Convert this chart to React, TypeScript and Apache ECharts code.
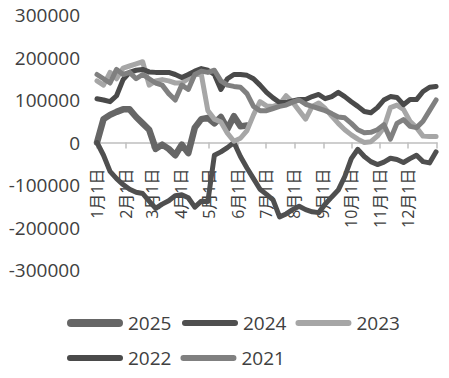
import React, { useEffect, useRef } from "react";
import * as echarts from "echarts";

// Month-start days (day of year) for ticks and labels
const monthTickDays = [0, 31, 59, 90, 120, 151, 181, 212, 243, 273, 304, 334, 365];
const monthLabels = ["1月1日", "2月1日", "3月1日", "4月1日", "5月1日", "6月1日", "7月1日", "8月1日", "9月1日", "10月1日", "11月1日", "12月1日"];

const seriesNames = ["2025", "2024", "2023", "2022", "2021"];

// weekly values (week 0 = 1月1日)
const v2025 = [0, 55, 65, 72, 78, 78, 60, 45, 30, -15, -5, -15, -30, -5, -25, 35, 55, 58, 45, 60, 32, 62, 38, 40].map((v) => v * 1000);
const v2024 = [0, -30, -68, -85, -99, -110, -117, -120, -138, -155, -145, -137, -125, -123, -130, -152, -138, -139, -30, -22, -12, 0, -33, -60, -85, -110, -122, -135, -175, -168, -158, -150, -158, -163, -165, -145, -128, -112, -80, -38, -16, -33, -45, -52, -46, -37, -40, -47, -38, -30, -45, -48, -22].map((v) => v * 1000);
const v2023 = [145, 135, 165, 150, 175, 180, 185, 190, 135, 145, 148, 145, 140, 140, 150, 160, 160, 75, 55, 48, 22, 3, 10, 28, 65, 96, 86, 85, 90, 110, 95, 75, 55, 85, 93, 80, 62, 45, 30, 18, 8, 0, 2, 15, 35, 82, 88, 78, 50, 35, 15, 14, 14].map((v) => v * 1000);
const v2022 = [103, 100, 96, 110, 148, 165, 170, 172, 166, 165, 165, 165, 160, 153, 160, 168, 174, 170, 160, 125, 150, 160, 160, 158, 150, 135, 118, 105, 94, 94, 98, 101, 101, 108, 113, 103, 108, 118, 108, 96, 85, 73, 70, 82, 100, 108, 106, 89, 101, 101, 120, 130, 132].map((v) => v * 1000);
const v2021 = [160, 150, 140, 172, 160, 165, 150, 160, 150, 140, 135, 115, 100, 135, 125, 160, 168, 165, 170, 145, 135, 132, 130, 115, 85, 75, 75, 80, 85, 88, 95, 100, 90, 85, 80, 75, 68, 60, 58, 45, 30, 23, 24, 30, 42, 8, 45, 54, 38, 35, 50, 75, 100].map((v) => v * 1000);

const seriesValues = [v2025, v2024, v2023, v2022, v2021];
const seriesColors = ["#666666", "#4f4f4f", "#a6a6a6", "#4a4a4a", "#808080"];
const seriesWidths = [6.5, 5, 5, 5, 5];

const DAYS_PER_WEEK = 7;

const capsuleThick = "path://M4,0H52A4,4,0,0,1,52,8H4A4,4,0,0,1,4,0Z";
const capsuleThin = "path://M3,0H53A3,3,0,0,1,53,6H3A3,3,0,0,1,3,0Z";

export default function App() {
  const ref = useRef<HTMLDivElement>(null);
  useEffect(() => {
    if (!ref.current) return;
    const chart = echarts.init(ref.current, undefined, { renderer: "svg" });
    const font = "'Open Sans', 'Noto Sans CJK SC', sans-serif";
    const legendText = { fontSize: 19, color: "#404040", fontFamily: font, lineHeight: 24 };
    const legendBase = {
      orient: "horizontal",
      itemWidth: 56,
      itemGap: 9,
      textStyle: legendText,
      symbolKeepAspect: true,
    };
    chart.setOption({
      animation: false,
      grid: { left: 97, right: 12, top: 15, bottom: 108, containLabel: false },
      legend: [
        { ...legendBase, left: 62, top: 306, itemHeight: 8, data: [{ name: seriesNames[0], icon: capsuleThick }] },
        { ...legendBase, left: 177, top: 306, itemHeight: 6, data: [seriesNames[1], seriesNames[2]].map((n) => ({ name: n, icon: capsuleThin })) },
        { ...legendBase, left: 62, top: 341, itemHeight: 6, data: [seriesNames[3], seriesNames[4]].map((n) => ({ name: n, icon: capsuleThin })) },
      ],
      xAxis: {
        type: "value",
        min: 0,
        max: 365,
        offset: -127.5,
        splitLine: { show: false },
        axisLine: { onZero: false, lineStyle: { color: "#bfbfbf", width: 1.5 } },
        axisTick: { show: true, length: 6, customValues: monthTickDays, lineStyle: { color: "#bfbfbf", width: 1.5 } },
        axisLabel: {
          customValues: monthTickDays.slice(0, 12),
          rotate: 90,
          margin: 26,
          fontSize: 16,
          color: "#404040",
          fontFamily: font,
          formatter: (val: number) => {
            const idx = monthTickDays.indexOf(val);
            return idx >= 0 && idx < monthLabels.length ? monthLabels[idx] : "";
          },
        },
      },
      yAxis: {
        type: "value",
        min: -300000,
        max: 300000,
        interval: 100000,
        splitLine: { show: false },
        axisLine: { show: false },
        axisTick: { show: false },
        axisLabel: { fontSize: 19, color: "#404040", fontFamily: font, margin: 17, formatter: (v: number) => String(v) },
      },
      series: seriesNames.map((name, k) => ({
        name,
        type: "line",
        showSymbol: false,
        symbol: "none",
        data: seriesValues[k].map((v, i) => [i * DAYS_PER_WEEK, v]),
        lineStyle: { color: seriesColors[k], width: seriesWidths[k], cap: "round", join: "round" },
        itemStyle: { color: seriesColors[k] },
      })),
    });
    return () => chart.dispose();
  }, []);
  return <div ref={ref} style={{ width: 449, height: 378, position: "absolute", left: 0, top: 0 }} />;
}
